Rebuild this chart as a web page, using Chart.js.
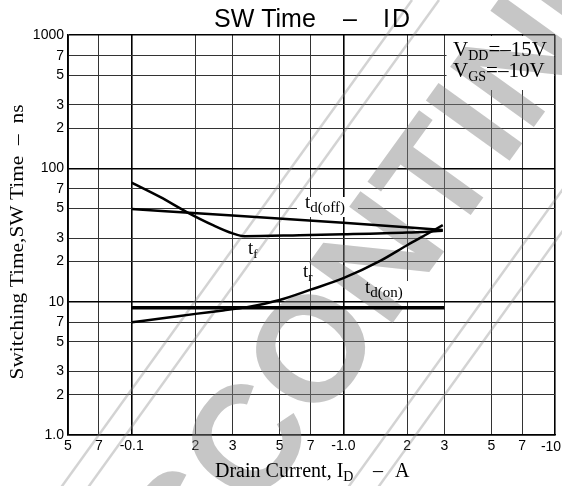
<!DOCTYPE html>
<html>
<head>
<meta charset="utf-8">
<style>
  html, body { margin: 0; padding: 0; background: #fff; }
  #wrap { width: 562px; height: 486px; }
</style>
<script src="https://cdn.jsdelivr.net/npm/chart.js@4.4.1/dist/chart.umd.min.js"></script>
</head>
<body>
<div id="wrap"><canvas id="swChart" width="562" height="486"></canvas></div>
<script>
(function () {
  'use strict';

  // axis ticks and their printed labels
  var X_TICKS = [0.05, 0.07, 0.1, 0.2, 0.3, 0.5, 0.7, 1, 2, 3, 5, 7, 10];
  var X_LABELS = ['5', '7', '-0.1', '2', '3', '5', '7', '-1.0', '2', '3', '5', '7', '-10'];
  var Y_TICKS = [1, 2, 3, 5, 7, 10, 20, 30, 50, 70, 100, 200, 300, 500, 700, 1000];
  var Y_LABELS = ['1.0', '2', '3', '5', '7', '10', '2', '3', '5', '7', '100', '2', '3', '5', '7', '1000'];

  // series (ID in A, time in ns)
  var TF_ID = [0.1, 0.136, 0.182, 0.242, 0.3, 0.34, 0.62, 1.0, 2.0, 2.95];
  var TF_NS = [78, 61, 47, 37.5, 32.5, 31, 31.5, 32, 33, 34];
  var TDOFF_ID = [0.1, 0.3, 1.0, 2.95];
  var TDOFF_NS = [49.5, 44.3, 39, 34.5];
  var TR_ID = [0.1, 0.14, 0.2, 0.27, 0.35, 0.5, 0.7, 1.0, 1.5, 2.0, 2.5, 2.95];
  var TR_NS = [7.0, 7.5, 8.1, 8.6, 9.1, 10.3, 12.3, 15.0, 20.3, 26.5, 32.3, 37.5];
  var TDON_ID = [0.1, 3.0];
  var TDON_NS = [9.0, 9.0];

  var SERIF = "'Liberation Serif', 'Times New Roman', serif";
  var SANS = "'Liberation Sans', Arial, sans-serif";

  function pts(xs, ys) {
    return xs.map(function (x, i) { return { x: x, y: ys[i] }; });
  }

  function isMajor(v) {
    var l = Math.log10(v);
    return Math.abs(l - Math.round(l)) < 1e-6;
  }

  function series(label, xs, ys, width) {
    return {
      label: label, data: pts(xs, ys), showLine: true,
      borderColor: '#000', backgroundColor: '#000', borderWidth: width,
      pointRadius: 0, cubicInterpolationMode: 'monotone', fill: false
    };
  }

  // text with a lowered, smaller suffix; returns x after drawing
  function subText(ctx, x, y, main, sub, size, subSize, drop) {
    ctx.font = size + 'px ' + SERIF;
    ctx.fillText(main, x, y);
    x += ctx.measureText(main).width;
    ctx.font = subSize + 'px ' + SERIF;
    ctx.fillText(sub, x, y + drop);
    return x + ctx.measureText(sub).width;
  }

  var boxesPlugin = {
    id: 'boxes',
    beforeDatasetsDraw: function (chart) {
      var ctx = chart.ctx;
      ctx.save();
      ctx.fillStyle = '#fff';
      ctx.fillRect(446.5, 36, 107.5, 54);
      ctx.fillRect(297, 197, 61, 20);
      ctx.fillRect(355, 281, 62, 20);

      // DISCONTINUED stamp
      var k = 0.72;
      ctx.strokeStyle = 'rgba(128,128,128,0.35)';
      ctx.lineWidth = 2.5;
      [160, 187, 447, 477].forEach(function (x0) {
        ctx.beginPath();
        ctx.moveTo(x0 - (500 - 350) * k, 500);
        ctx.lineTo(x0 + 350 * k, 0);
        ctx.stroke();
      });
      ctx.fillStyle = 'rgba(128,128,128,0.45)';
      ctx.translate(399, 222);
      ctx.rotate(-Math.atan2(1, k));
      ctx.font = 'bold 150px ' + SANS;
      ctx.textAlign = 'center';
      ctx.textBaseline = 'alphabetic';
      ctx.fillText('DISCONTINUED', 0, 54);
      ctx.restore();
    },
    afterDraw: function (chart) {
      var ctx = chart.ctx;
      ctx.save();
      ctx.fillStyle = '#000';
      ctx.textBaseline = 'alphabetic';

      // last x label, kept inside the canvas
      ctx.font = '14px ' + SANS;
      ctx.textAlign = 'center';
      ctx.fillText(X_LABELS[X_LABELS.length - 1], 551, 451);
      ctx.textAlign = 'left';

      // title
      ctx.font = '25px ' + SANS;
      ctx.fillText('SW Time', 214, 27);
      ctx.fillText('\u2013', 343, 27);
      ctx.fillText('I', 383, 27);
      ctx.fillText('D', 392, 27);

      // y title
      ctx.save();
      ctx.translate(23, 242);
      ctx.rotate(-Math.PI / 2);
      ctx.font = '19px ' + SERIF;
      var yt = 'Switching Time,SW Time  \u2013  ns';
      var yw = ctx.measureText(yt).width;
      ctx.scale(275 / yw, 1);
      ctx.textAlign = 'center';
      ctx.fillText(yt, 0, 0);
      ctx.restore();

      // x title
      subText(ctx, 215, 477, 'Drain Current, I', 'D', 20, 14, 4);
      ctx.font = '20px ' + SERIF;
      ctx.fillText('\u2013', 373, 477);
      ctx.fillText('A', 395, 477);

      // conditions
      var x = subText(ctx, 453, 56, 'V', 'DD', 21, 14, 4);
      ctx.font = '21px ' + SERIF;
      ctx.fillText('=\u201315V', x, 56);
      x = subText(ctx, 453, 77, 'V', 'GS', 21, 14, 4);
      ctx.font = '21px ' + SERIF;
      ctx.fillText('=\u201310V', x, 77);

      // curve labels
      subText(ctx, 305, 208, 't', 'd(off)', 19, 15, 4);
      subText(ctx, 248, 254, 't', 'f', 19, 13, 4);
      subText(ctx, 303, 277, 't', 'r', 19, 13, 4);
      subText(ctx, 365, 293, 't', 'd(on)', 19, 15, 4);
      ctx.restore();
    }
  };

  function gridWidth(c) { return c.tick && isMajor(c.tick.value) ? 1.6 : 1; }
  function gridColor(c) { return c.tick && isMajor(c.tick.value) ? '#000' : '#333'; }

  new Chart(document.getElementById('swChart'), {
    type: 'scatter',
    data: {
      datasets: [
        series('tf', TF_ID, TF_NS, 2.5),
        series('td(off)', TDOFF_ID, TDOFF_NS, 2.5),
        series('tr', TR_ID, TR_NS, 2.5),
        series('td(on)', TDON_ID, TDON_NS, 3.5)
      ]
    },
    options: {
      responsive: false,
      animation: false,
      layout: { padding: { top: 35, left: 0, right: 7, bottom: 0 } },
      plugins: { legend: { display: false }, tooltip: { enabled: false }, title: { display: false } },
      scales: {
        x: {
          type: 'logarithmic', min: 0.05, max: 10,
          afterBuildTicks: function (s) { s.ticks = X_TICKS.map(function (v) { return { value: v }; }); },
          afterFit: function (s) { s.height = 51; s.paddingLeft = 0; s.paddingRight = 0; },
          ticks: {
            autoSkip: false, maxRotation: 0, padding: 3, color: '#000',
            font: { size: 14, family: SANS },
            callback: function (v, i) { return i === X_LABELS.length - 1 ? '' : X_LABELS[i]; }
          },
          grid: { drawTicks: false, color: gridColor, lineWidth: gridWidth },
          border: { color: '#000', width: 1.6 }
        },
        y: {
          type: 'logarithmic', min: 1, max: 1000,
          afterBuildTicks: function (s) { s.ticks = Y_TICKS.map(function (v) { return { value: v }; }); },
          afterFit: function (s) { s.width = 68; },
          ticks: {
            autoSkip: false, padding: 4, color: '#000',
            font: { size: 14, family: SANS },
            callback: function (v, i) { return Y_LABELS[i]; }
          },
          grid: { drawTicks: false, color: gridColor, lineWidth: gridWidth },
          border: { color: '#000', width: 1.6 }
        }
      }
    },
    plugins: [boxesPlugin]
  });
})();
</script>
</body>
</html>
